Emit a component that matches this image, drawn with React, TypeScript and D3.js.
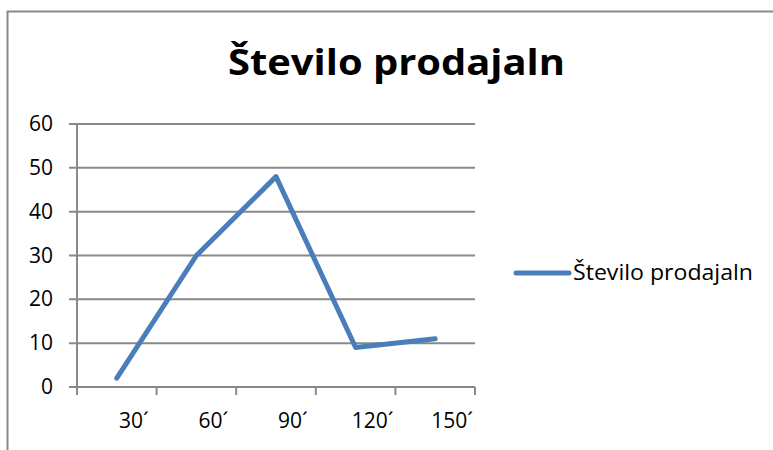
import React from "react";
import * as d3 from "d3";

const categories = ["30´", "60´", "90´", "120´", "150´"];
const seriesName = "Število prodajaln";
const values = [2, 30, 48, 9, 11];
const yTicks = [0, 10, 20, 30, 40, 50, 60];
const title = "Število prodajaln";

export default function App() {
  const W = 773, H = 450;
  const left = 77, right = 475, top = 124, bottom = 387;
  const x = d3.scaleBand<string>().domain(categories).range([left, right]);
  const y = d3.scaleLinear().domain([0, 60]).range([bottom, top]);
  const line = d3
    .line<number>()
    .x((_, i) => (x(categories[i]) as number) + x.bandwidth() / 2)
    .y((d) => y(d));
  const font = "'Open Sans', 'Noto Sans', sans-serif";
  const grey = "#898989";
  const blue = "#4a7ebb";
  const tickXs = [left, ...categories.map((c) => (x(c) as number) + x.bandwidth())];
  return (
    <svg width={W} height={H} style={{ position: "absolute", left: 0, top: 0 }}>
      <rect x={0} y={0} width={W} height={H} fill="#fff" />
      <path d={`M7.5,${H + 5} V11.5 H${W + 5}`} fill="none" stroke={grey} strokeWidth={2} />
      <text
        x={228}
        y={75}
        textLength={337}
        lengthAdjust="spacingAndGlyphs"
        fontFamily={font}
        fontWeight="bold"
        fontSize={36}
        fill="#000"
      >
        {title}
      </text>
      {yTicks.map((t) => (
        <g key={t}>
          <line x1={69} x2={right} y1={y(t)} y2={y(t)} stroke={grey} strokeWidth={2} />
          <text x={53} y={y(t) + 7} textAnchor="end" fontFamily={font} fontSize={21} fill="#000">
            {t}
          </text>
        </g>
      ))}
      <line x1={left} x2={left} y1={top} y2={bottom + 8} stroke={grey} strokeWidth={2} />
      {tickXs.map((tx, i) => (
        <line key={i} x1={tx} x2={tx} y1={bottom} y2={bottom + 8} stroke={grey} strokeWidth={2} />
      ))}
      {categories.map((c) => (
        <text
          key={c}
          x={(x(c) as number) + x.bandwidth() / 2 + 17}
          y={428}
          textAnchor="middle"
          fontFamily={font}
          fontSize={21}
          fill="#000"
        >
          {c}
        </text>
      ))}
      <path d={line(values) || ""} fill="none" stroke={blue} strokeWidth={5} strokeLinejoin="round" strokeLinecap="round" />
      <line x1={516} x2={569} y1={273} y2={273} stroke={blue} strokeWidth={5} strokeLinecap="round" />
      <text x={573} y={280} textLength={180} lengthAdjust="spacingAndGlyphs" fontFamily={font} fontSize={21} fill="#000">
        {seriesName}
      </text>
    </svg>
  );
}
